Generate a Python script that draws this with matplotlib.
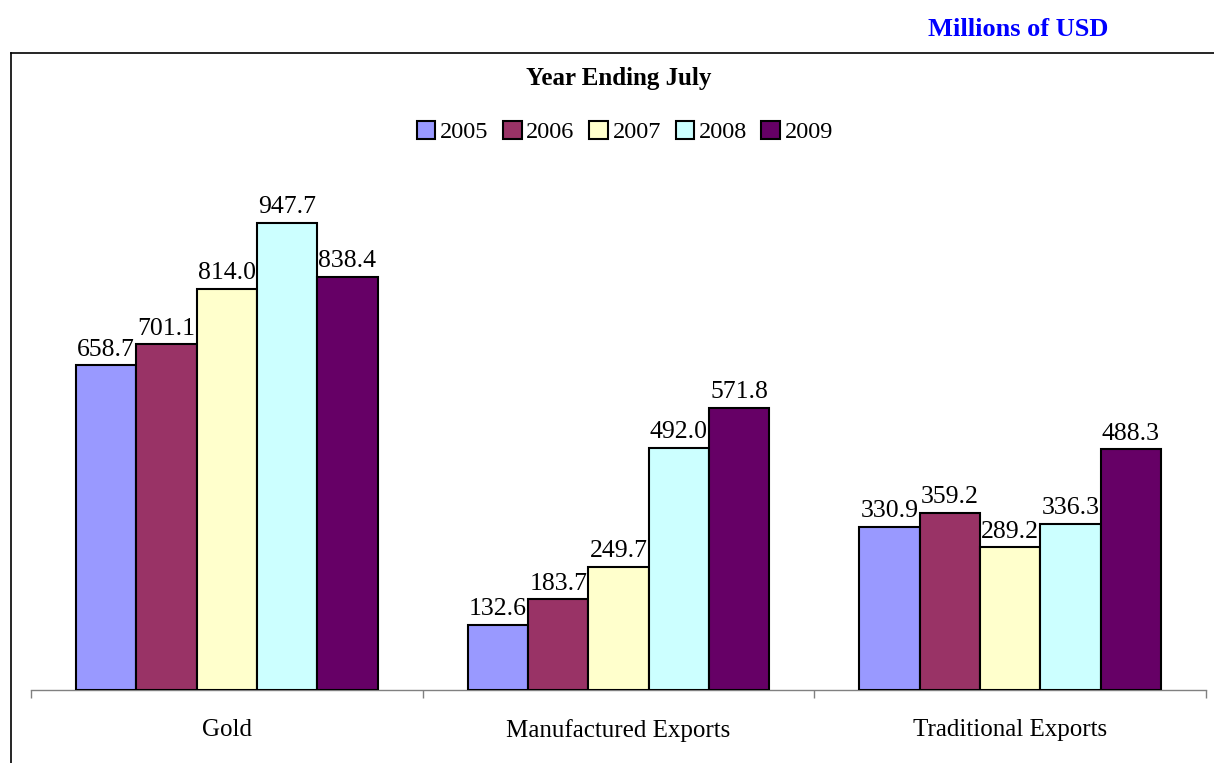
import matplotlib
matplotlib.use("Agg")
import matplotlib.pyplot as plt
from matplotlib.lines import Line2D
from matplotlib.patches import Patch
import numpy as np

categories = ["Gold", "Manufactured Exports", "Traditional Exports"]
years = ["2005", "2006", "2007", "2008", "2009"]
values = {
    "2005": [658.7, 132.6, 330.9],
    "2006": [701.1, 183.7, 359.2],
    "2007": [814.0, 249.7, 289.2],
    "2008": [947.7, 492.0, 336.3],
    "2009": [838.4, 571.8, 488.3],
}
colors = ["#9999FF", "#993366", "#FFFFCC", "#CCFFFF", "#660066"]

plt.rcParams["font.family"] = ["Liberation Serif", "DejaVu Serif"]

W, H = 1214, 763
fig = plt.figure(figsize=(W / 100, H / 100), dpi=100)

# axes placement in pixels
x0, x1 = 31, 1206
ybase = 690
scale = 0.4928  # px per unit
ymax = 1035
ytop = ybase - ymax * scale
ax = fig.add_axes([x0 / W, (H - ybase) / H, (x1 - x0) / W, (ybase - ytop) / H])

x = np.arange(len(categories))
bw = 0.154
n = len(years)
for i, (yr, c) in enumerate(zip(years, colors)):
    offs = (i - (n - 1) / 2) * bw
    bars = ax.bar(x + offs, values[yr], width=bw, color=c, edgecolor="black",
                  linewidth=1.5, label=yr, zorder=3)
    for b, v in zip(bars, values[yr]):
        ax.annotate(f"{v:.1f}", (b.get_x() + b.get_width() / 2, v),
                    xytext=(0, 3.5), textcoords="offset points",
                    ha="center", va="bottom", fontsize=18.5)

ax.set_xlim(-0.5, len(categories) - 0.5)
ax.set_ylim(0, ymax)
for s in ["left", "top", "right"]:
    ax.spines[s].set_visible(False)
ax.spines["bottom"].set_color("#808080")
ax.spines["bottom"].set_linewidth(1.0)
ax.set_yticks([])
ax.set_xticks(x)
ax.set_xticklabels(categories, fontsize=18)
ax.tick_params(axis="x", which="major", length=0, pad=21)
ax.set_xticks(np.arange(-0.5, len(categories), 1.0), minor=True)
ax.tick_params(axis="x", which="minor", length=6, color="#808080", width=1.0)

# legend
handles = [Patch(facecolor=c, edgecolor="black", linewidth=1.5, label=y)
           for y, c in zip(years, colors)]
fig.legend(handles=handles, loc="center", bbox_to_anchor=(625 / W, 1 - 132 / H),
           ncol=5, frameon=False, fontsize=17.5, handlelength=0.75, handleheight=0.75,
           handletextpad=0.2, columnspacing=0.6, borderaxespad=0)

# chart title inside frame
fig.text(619 / W, 1 - 78 / H, "Year Ending July", ha="center", va="center",
         fontsize=18, fontweight="bold")

# units label
fig.text(1108 / W, 1 - 29 / H, "Millions of USD", ha="right", va="center",
         fontsize=19, fontweight="bold", color="#0000FF")

# chart frame (left and top edges visible)
fig.add_artist(Line2D([11 / W, 11 / W], [0, 1 - 53 / H], transform=fig.transFigure,
                      color="black", linewidth=1.2))
fig.add_artist(Line2D([11 / W, 1], [1 - 53 / H, 1 - 53 / H], transform=fig.transFigure,
                      color="black", linewidth=1.2))

fig.savefig("out.png", dpi=100)
